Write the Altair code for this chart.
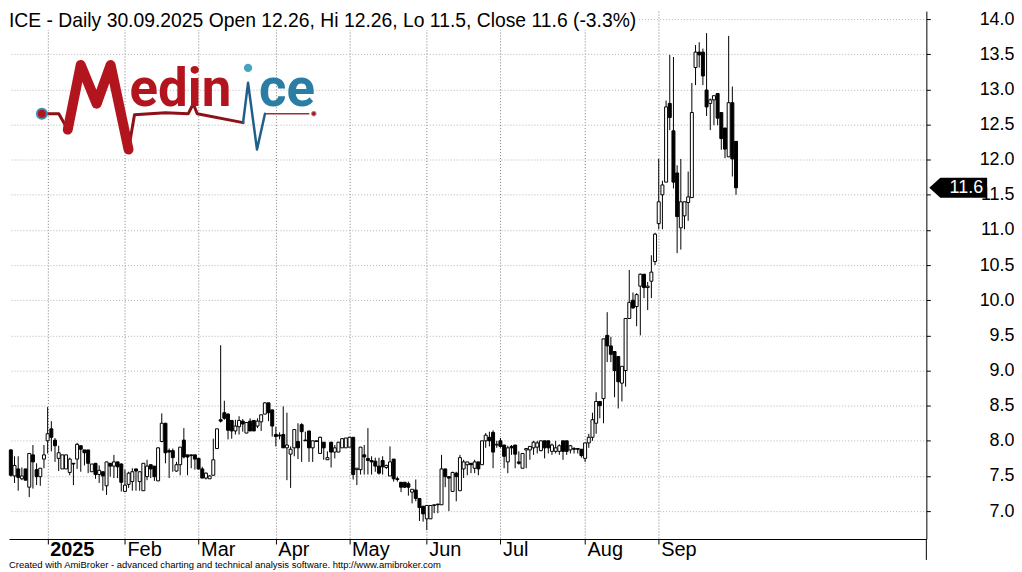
import altair as alt
import pandas as pd

# ---------------- data (daily candles, Dec-2024 tail to 30.09.2025) ----------------
OPEN = [
    7.87, 7.50, 7.60, 7.46, 7.60, 7.34, 7.80, 7.59, 7.49, 7.74,
    8.00, 8.17, 8.01, 7.75, 7.60, 7.60, 7.55, 7.68, 7.74, 7.93, 7.87, 7.87, 7.56, 7.68, 7.52, 7.56, 7.36, 7.68, 7.64, 7.70, 7.67,
    7.28, 7.38, 7.42, 7.60, 7.42, 7.29, 7.49, 7.66, 7.64, 7.43, 7.99, 8.25, 7.86, 7.86, 7.57, 7.66, 8.01, 7.80, 7.80, 7.80,
    7.75, 7.60, 7.47, 7.46, 7.51, 7.89, 8.30, 8.40, 8.38, 8.29, 8.14, 8.20, 8.28, 8.11, 8.28, 8.29, 8.21, 8.27, 8.38, 8.54, 8.44,
    8.09, 8.08, 8.09, 7.90, 7.81, 7.90, 7.99, 8.23, 8.01, 8.14, 7.90, 8.00, 7.82, 7.98, 7.73, 7.98, 7.84, 7.84, 7.90, 7.90,
    7.91, 8.05, 7.59, 7.59, 7.80, 7.75, 7.72, 7.71, 7.64, 7.72, 7.62, 7.50, 7.74, 7.46, 7.41, 7.41, 7.39, 7.27, 7.30, 7.18, 7.07,
    6.89, 6.89, 7.08, 7.10, 7.09, 7.60, 7.49, 7.28, 7.54, 7.29, 7.60, 7.66, 7.68, 7.61, 7.70, 7.66, 8.00, 8.05, 8.12, 7.94,
    8.00, 7.94, 7.70, 7.92, 7.94, 7.70, 7.61, 7.87, 7.87, 7.90, 7.91, 7.86, 8.00, 8.00, 7.85, 7.85, 7.85, 8.00, 8.00, 7.87, 7.89, 7.89, 7.88,
    7.75, 7.97, 8.05, 8.25, 8.56, 8.60, 9.50, 9.35, 9.27, 9.20, 8.82, 9.00, 9.74, 10.00, 9.91, 10.20, 10.37, 10.18, 10.27, 10.55,
    11.09, 11.50, 11.68, 12.80, 12.41, 11.81, 11.03, 11.20, 11.39, 11.46, 13.31, 13.53, 13.53, 12.99, 12.80, 12.85, 12.94, 12.67, 12.45, 12.04, 12.81, 12.26,
]
HIGH = [
    7.88, 7.78, 7.78, 7.62, 7.60, 7.82, 7.94, 7.68, 7.61, 7.94,
    8.48, 8.28, 8.04, 7.93, 7.80, 7.80, 7.76, 7.68, 7.97, 7.93, 7.87, 7.87, 7.67, 7.68, 7.65, 7.56, 7.70, 7.68, 7.80, 7.70, 7.68,
    7.59, 7.56, 7.61, 7.60, 7.56, 7.68, 7.73, 7.66, 7.64, 7.91, 8.39, 8.25, 7.89, 7.89, 7.70, 7.91, 8.18, 7.80, 7.80, 7.80,
    7.75, 7.63, 7.55, 7.51, 8.03, 8.17, 9.36, 8.57, 8.39, 8.29, 8.30, 8.35, 8.31, 8.26, 8.32, 8.29, 8.32, 8.37, 8.55, 8.54, 8.44,
    8.20, 8.12, 8.49, 8.40, 7.92, 8.16, 8.25, 8.25, 8.13, 8.14, 8.00, 8.00, 8.06, 7.98, 7.85, 7.98, 7.94, 7.98, 8.04, 8.04,
    8.05, 8.05, 7.61, 7.91, 7.94, 8.18, 7.78, 7.76, 7.76, 7.78, 7.66, 7.92, 7.74, 7.49, 7.41, 7.41, 7.42, 7.31, 7.45, 7.18, 7.07,
    7.08, 7.08, 7.09, 7.10, 7.80, 7.60, 7.49, 7.56, 7.56, 7.80, 7.73, 7.70, 7.68, 7.73, 7.70, 8.00, 8.11, 8.13, 8.15, 8.00,
    8.04, 7.94, 7.93, 7.94, 7.94, 7.85, 7.82, 7.89, 7.92, 8.00, 8.00, 8.00, 8.00, 8.00, 7.96, 8.00, 7.95, 8.00, 8.00, 7.94, 7.91, 7.89, 7.88,
    7.97, 8.10, 8.40, 8.69, 8.56, 9.45, 9.83, 9.48, 9.27, 9.20, 9.06, 9.74, 10.43, 10.11, 10.10, 10.38, 10.37, 10.26, 10.64, 10.96,
    12.01, 11.70, 12.84, 13.49, 13.46, 11.92, 12.01, 11.40, 11.83, 13.09, 13.63, 13.67, 13.58, 13.80, 12.87, 12.91, 12.94, 12.67, 12.45, 13.76, 13.04, 12.26,
]
LOW = [
    7.49, 7.40, 7.29, 7.44, 7.44, 7.20, 7.32, 7.37, 7.36, 7.61,
    7.82, 7.85, 7.70, 7.57, 7.60, 7.60, 7.51, 7.37, 7.60, 7.56, 7.65, 7.54, 7.56, 7.46, 7.40, 7.29, 7.23, 7.49, 7.47, 7.47, 7.28,
    7.28, 7.33, 7.29, 7.29, 7.29, 7.29, 7.44, 7.47, 7.43, 7.43, 7.98, 7.68, 7.47, 7.56, 7.56, 7.51, 7.75, 7.51, 7.61, 7.59,
    7.59, 7.47, 7.45, 7.46, 7.51, 7.89, 8.26, 8.30, 8.02, 8.03, 8.09, 8.09, 8.13, 8.11, 8.14, 8.14, 8.18, 8.14, 8.38, 8.28, 8.06,
    7.92, 8.02, 7.90, 7.44, 7.33, 7.78, 7.74, 7.70, 8.00, 7.70, 7.70, 7.99, 7.82, 7.73, 7.73, 7.62, 7.75, 7.84, 7.90, 7.90,
    7.91, 7.45, 7.37, 7.52, 7.52, 7.52, 7.52, 7.56, 7.52, 7.52, 7.60, 7.50, 7.42, 7.42, 7.27, 7.33, 7.22, 7.11, 7.14, 6.86, 6.85,
    6.73, 6.89, 6.97, 6.97, 7.09, 7.34, 7.00, 7.28, 7.14, 7.29, 7.47, 7.51, 7.54, 7.54, 7.51, 7.66, 7.90, 7.92, 7.61, 7.90,
    7.90, 7.61, 7.54, 7.80, 7.61, 7.66, 7.61, 7.61, 7.73, 7.80, 7.82, 7.85, 7.75, 7.82, 7.80, 7.82, 7.80, 7.73, 7.80, 7.82, 7.82, 7.82, 7.76,
    7.70, 7.90, 8.00, 8.10, 8.32, 8.25, 9.12, 9.12, 8.62, 8.46, 8.56, 8.77, 9.74, 9.88, 9.63, 9.50, 10.03, 9.86, 10.03, 10.50,
    11.01, 11.01, 11.68, 12.42, 11.59, 10.67, 10.72, 11.01, 11.13, 11.46, 13.06, 13.31, 13.06, 12.62, 12.42, 12.49, 12.49, 12.14, 12.02, 12.04, 11.76, 11.50,
]
CLOSE = [
    7.51, 7.65, 7.48, 7.50, 7.44, 7.82, 7.70, 7.49, 7.61, 7.80,
    8.10, 8.05, 7.93, 7.83, 7.80, 7.80, 7.74, 7.67, 7.95, 7.88, 7.83, 7.68, 7.67, 7.52, 7.58, 7.50, 7.70, 7.64, 7.70, 7.63, 7.41,
    7.37, 7.54, 7.56, 7.57, 7.56, 7.68, 7.64, 7.60, 7.49, 7.90, 8.25, 7.83, 7.84, 7.76, 7.66, 7.91, 7.77, 7.77, 7.79, 7.74,
    7.60, 7.47, 7.54, 7.50, 7.73, 8.17, 8.28, 8.32, 8.15, 8.14, 8.21, 8.29, 8.24, 8.26, 8.14, 8.14, 8.28, 8.37, 8.54, 8.40, 8.21,
    8.06, 8.07, 7.90, 7.94, 7.88, 8.16, 7.90, 8.13, 8.00, 7.90, 8.00, 7.99, 8.05, 7.90, 7.76, 7.84, 7.90, 7.98, 8.03, 8.04,
    8.05, 7.52, 7.61, 7.91, 7.77, 7.72, 7.70, 7.64, 7.54, 7.63, 7.65, 7.70, 7.46, 7.45, 7.34, 7.34, 7.34, 7.31, 7.18, 7.05, 6.96,
    7.08, 7.08, 7.09, 7.09, 7.60, 7.49, 7.47, 7.55, 7.49, 7.76, 7.70, 7.70, 7.66, 7.70, 7.60, 8.00, 8.08, 8.00, 7.84, 7.95,
    7.92, 7.78, 7.90, 7.90, 7.81, 7.68, 7.82, 7.89, 7.92, 7.98, 7.97, 8.00, 7.90, 7.90, 7.94, 7.90, 7.93, 7.85, 7.85, 7.93, 7.88, 7.88, 7.79,
    7.97, 8.05, 8.30, 8.56, 8.50, 9.45, 9.35, 9.23, 9.00, 8.84, 9.06, 9.74, 9.97, 9.89, 10.08, 10.37, 10.18, 10.20, 10.40, 10.94,
    11.40, 11.64, 12.75, 12.60, 11.68, 11.19, 11.40, 11.40, 11.47, 12.67, 13.53, 13.49, 13.19, 12.75, 12.85, 12.91, 12.59, 12.30, 12.15, 12.81, 12.01, 11.60,
]

MONTH_START_IDX = [10, 31, 51, 72, 92, 113, 133, 156, 176]
MONTH_LABELS = ["2025", "Feb", "Mar", "Apr", "May", "Jun", "Jul", "Aug", "Sep"]
PRICE_TICKS = [7.0, 7.5, 8.0, 8.5, 9.0, 9.5, 10.0, 10.5, 11.0, 11.5, 12.0, 12.5, 13.0, 13.5, 14.0]
LAST_PRICE = [11.6]
TITLE = "ICE - Daily 30.09.2025 Open 12.26, Hi 12.26, Lo 11.5, Close 11.6 (-3.3%)"
FOOTER = "Created with AmiBroker - advanced charting and technical analysis software. http://www.amibroker.com"

# ---------------- layout ----------------
W, H = 921, 530
FONT = "Liberation Sans"
RED = "#b3151e"
BLUE = "#2a7ea3"

n = len(OPEN)
df = pd.DataFrame({"i": list(range(n)), "open": OPEN, "high": HIGH, "low": LOW, "close": CLOSE})

x_scale = alt.Scale(domain=[-0.5, 248.7], nice=False, zero=False, padding=0)
y_scale = alt.Scale(domain=[6.603, 14.113], nice=False, zero=False, padding=0)

label_expr = ""
for v, lab in zip(MONTH_START_IDX, MONTH_LABELS):
    label_expr += f"datum.value == {v} ? '{lab}' : "
label_expr += "''"

x_axis = alt.Axis(
    values=MONTH_START_IDX, labelExpr=label_expr, orient="bottom", title=None,
    grid=True, gridColor="#7a7a7a", gridDash=[1, 2], gridWidth=1,
    domainColor="black", domainWidth=1, tickColor="black", tickSize=5,
    labelAlign="left", labelBaseline="top", labelPadding=-4, labelOffset=2,
    labelFontSize=20, labelFont=FONT, labelColor="black", labelOverlap=False, labelFlush=False,
    labelFontWeight={"condition": {"test": "datum.value == 10", "value": "bold"}, "value": "normal"},
)
y_axis = alt.Axis(
    orient="right", values=PRICE_TICKS, format=".1f", title=None,
    grid=True, gridColor="#b4b4b4", gridDash=[1, 2], gridWidth=1,
    domainColor="black", domainWidth=1, tickColor="black", tickSize=4,
    labelAlign="right", labelBaseline="middle", labelPadding=84,
    labelFontSize=18, labelFont=FONT, labelColor="black",
)

X = alt.X("i:Q", scale=x_scale, axis=x_axis)

base = alt.Chart(df)

wicks = base.mark_rule(color="black", strokeWidth=1).encode(
    x=X,
    y=alt.Y("low:Q", scale=y_scale, axis=y_axis),
    y2=alt.Y2("high:Q"),
)

bodies = base.mark_bar(size=3, stroke="black", strokeWidth=1).encode(
    x=X,
    y=alt.Y("open:Q", scale=y_scale, axis=y_axis),
    y2=alt.Y2("close:Q"),
    fill=alt.condition("datum.close >= datum.open", alt.value("white"), alt.value("black")),
)

# title with white background (kept inside the chart's top edge)
tdf = pd.DataFrame({"t": [TITLE]})
title_bg = alt.Chart(tdf).mark_rect(color="white").encode(
    x=alt.value(0), x2=alt.value(632), y=alt.value(0), y2=alt.value(19)
)
title_txt = alt.Chart(tdf).mark_text(
    align="left", baseline="alphabetic", fontSize=19.4, font=FONT, color="black"
).encode(text="t:N", x=alt.value(0), y=alt.value(16))

fdf = pd.DataFrame({"t": [FOOTER]})
footer = alt.Chart(fdf).mark_text(
    align="left", baseline="middle", fontSize=9.5, font=FONT, color="black"
).encode(text="t:N", x=alt.value(0), y=alt.value(556))

# frame extension of the price axis line into the date band
frame = alt.Chart(pd.DataFrame({"k": [0]})).mark_rule(color="black", strokeWidth=1).encode(
    x=alt.value(W), y=alt.value(H), y2=alt.value(H + 21)
)

# last price marker
ldf = pd.DataFrame({"v": LAST_PRICE, "t": [f"{LAST_PRICE[0]:.1f}"]})
marker_path = "M -1 0 L -0.62 -0.345 L 1 -0.345 L 1 0.345 L -0.62 0.345 Z"
marker = alt.Chart(ldf).mark_point(
    shape=marker_path, size=3364, filled=True, color="black", opacity=1
).encode(x=alt.value(961 - 8), y=alt.Y("v:Q", scale=y_scale, axis=y_axis))
marker_txt = alt.Chart(ldf).mark_text(
    align="right", baseline="middle", fontSize=18, font=FONT, color="white"
).encode(x=alt.value(986 - 8), y=alt.Y("v:Q", scale=y_scale, axis=y_axis), text="t:N")

# logo "Medinice" (decorative)
CX, CY, S = 169, 97, 145.0


def logo_path(strokes):
    parts = []
    for pts in strokes:
        seg = []
        for k, (px, py) in enumerate(pts):
            u = (px - 8 - CX) / S
            v = (py - 8 - CY) / S
            seg.append(("M" if k == 0 else "L") + f" {u:.4f} {v:.4f}")
        parts.append(" ".join(seg))
    return " ".join(parts)


M_PATH = logo_path([[(67, 127), (80, 62), (96, 101), (110, 62), (128, 147)]])
THIN_RED = logo_path([
    [(45, 111), (58, 111), (67, 127)],
    [(128, 147), (134, 112), (165, 110), (188, 111), (193, 101), (197, 111), (243, 120)],
])
TAIL_RED = logo_path([[(265, 111), (309, 111)]])
STEM_BLUE = logo_path([[(243, 120), (248, 80), (257, 147), (265, 111)]])

one = pd.DataFrame({"k": [0]})


def logo_stroke(path, color, width):
    return alt.Chart(one).mark_point(
        shape=path, size=(2 * S) ** 2, filled=False, stroke=color, strokeWidth=width,
        opacity=1, strokeJoin="round", strokeCap="round",
    ).encode(x=alt.value(CX), y=alt.value(CY))


logo_m = logo_stroke(M_PATH, RED, 10)
logo_thin = logo_stroke(THIN_RED, "#8e1018", 3)
logo_tail = logo_stroke(TAIL_RED, "#a03038", 1.5)
logo_stem = logo_stroke(STEM_BLUE, "#1f5f88", 2.5)

logo_edin = alt.Chart(pd.DataFrame({"t": ["edin"]})).mark_text(
    align="left", baseline="alphabetic", fontSize=53, font="Roboto", fontWeight="bold", color=RED
).encode(text="t:N", x=alt.value(121), y=alt.value(95))
logo_ce = alt.Chart(pd.DataFrame({"t": ["ce"]})).mark_text(
    align="left", baseline="alphabetic", fontSize=53, font="Roboto", fontWeight="bold", color=BLUE
).encode(text="t:N", x=alt.value(251), y=alt.value(95))
logo_idot = alt.Chart(one).mark_point(shape="circle", size=70, filled=True, color="#45a5c0", opacity=1).encode(
    x=alt.value(240), y=alt.value(57))
logo_lcirc = alt.Chart(one).mark_point(
    shape="circle", size=100, filled=True, fill=RED, stroke="#3a8fb0", strokeWidth=2, opacity=1
).encode(x=alt.value(33), y=alt.value(103))
logo_rdot = alt.Chart(one).mark_point(
    shape="circle", size=22, filled=True, fill=RED, stroke="#999999", strokeWidth=1, opacity=1
).encode(x=alt.value(306), y=alt.value(103))

chart = alt.layer(
    wicks, bodies,
    logo_thin, logo_tail, logo_stem, logo_m, logo_edin, logo_ce, logo_idot, logo_lcirc, logo_rdot,
    title_bg, title_txt, footer, frame, marker, marker_txt,
).properties(
    width=W, height=H, padding={"left": 0, "top": 0, "right": 0, "bottom": 0}, background="white"
).configure_view(strokeWidth=0)

chart.save("out.html", embed_options={"renderer": "svg", "actions": False})
